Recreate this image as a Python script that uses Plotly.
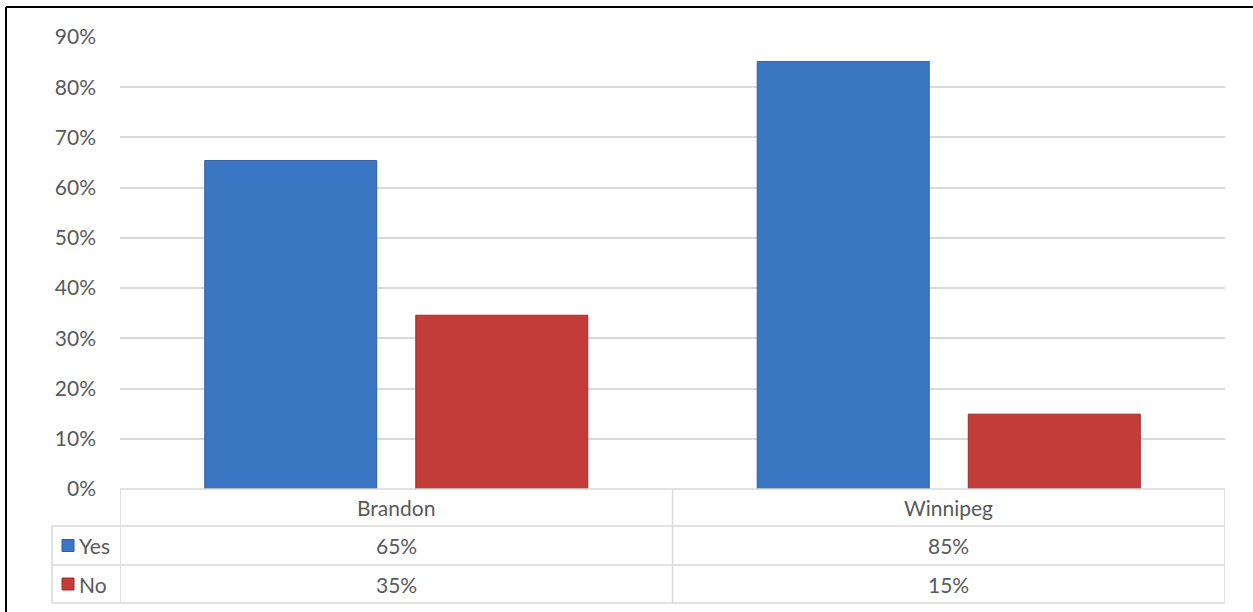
import plotly.graph_objects as go

categories = ["Brandon", "Winnipeg"]
series_names = ["Yes", "No"]
yes_values = [0.654, 0.851]
no_values = [0.346, 0.149]
table_yes = ["65%", "85%"]
table_no = ["35%", "15%"]
y_ticks = [0, 0.1, 0.2, 0.3, 0.4, 0.5, 0.6, 0.7, 0.8, 0.9]
y_ticklabels = ["0%", "10%", "20%", "30%", "40%", "50%", "60%", "70%", "80%", "90%"]

W, H = 1253, 612
FONT = "Lato, Open Sans, sans-serif"
FS = 21
TXT = "#595959"
GRID = "#D9D9D9"
BLUE = "#3B76C2"
RED = "#C23C3A"

def px(x):
    return x / W

def py(y):
    return 1 - y / H

fig = go.Figure()
fig.add_trace(go.Bar(x=categories, y=yes_values, name=series_names[0],
                     marker=dict(color=BLUE, line=dict(color="#2F5F9E", width=1))))
fig.add_trace(go.Bar(x=categories, y=no_values, name=series_names[1],
                     marker=dict(color=RED, line=dict(color="#9E2E2C", width=1))))

plot_left, plot_right = 120, 1225
y0_px, y90_px = 489, 37
row_lines = [489, 526, 565, 603]

shapes = []
shapes.append(dict(type="line", xref="paper", yref="paper", x0=px(6), x1=px(6),
                   y0=py(7), y1=0, line=dict(color="black", width=2)))
shapes.append(dict(type="line", xref="paper", yref="paper", x0=px(6), x1=1,
                   y0=py(7), y1=py(7), line=dict(color="black", width=2)))
shapes.append(dict(type="line", xref="paper", yref="paper", x0=px(plot_left), x1=px(plot_right),
                   y0=py(489), y1=py(489), line=dict(color=GRID, width=1.5)))
for yl in row_lines[1:]:
    shapes.append(dict(type="line", xref="paper", yref="paper", x0=px(52), x1=px(plot_right),
                       y0=py(yl), y1=py(yl), line=dict(color=GRID, width=1.5)))
shapes.append(dict(type="line", xref="paper", yref="paper", x0=px(52), x1=px(52),
                   y0=py(526), y1=py(603), line=dict(color=GRID, width=1.5)))
for xb in [-0.5, 0.5, 1.5]:
    shapes.append(dict(type="line", xref="x", yref="paper", x0=xb, x1=xb,
                       y0=py(489), y1=py(603), line=dict(color=GRID, width=1.5)))
for (yc, col, lc) in [((526 + 565) / 2, BLUE, "#2F5F9E"), ((565 + 603) / 2, RED, "#9E2E2C")]:
    shapes.append(dict(type="rect", xref="paper", yref="paper", x0=px(62), x1=px(74),
                       y0=py(yc + 6), y1=py(yc - 6), fillcolor=col, line=dict(color=lc, width=1)))

annotations = []
hdr_y = py((489 + 526) / 2)
yes_y = py((526 + 565) / 2)
no_y = py((565 + 603) / 2)
tf = dict(family=FONT, size=FS, color=TXT)
for i, c in enumerate(categories):
    for txt, yy in [(c, hdr_y), (table_yes[i], yes_y), (table_no[i], no_y)]:
        annotations.append(dict(x=c, xref="x", y=yy, yref="paper", text=txt, showarrow=False,
                                xanchor="center", yanchor="middle", font=tf))
for name, yy in [(series_names[0], yes_y), (series_names[1], no_y)]:
    annotations.append(dict(x=px(77), xref="paper", y=yy, yref="paper", text=name,
                            showarrow=False, xanchor="left", yanchor="middle", font=tf))

fig.update_layout(
    width=W, height=H,
    margin=dict(l=0, r=0, t=0, b=0, pad=0, autoexpand=False),
    paper_bgcolor="white", plot_bgcolor="white",
    showlegend=False,
    barmode="group", bargap=0.236, bargroupgap=0.185,
    xaxis=dict(domain=[px(plot_left), px(plot_right)], range=[-0.5, 1.5], automargin=False,
               showticklabels=False, showgrid=False, zeroline=False, showline=False, ticks=""),
    yaxis=dict(domain=[py(y0_px), py(y90_px)], range=[0, 0.9], automargin=False,
               tickvals=y_ticks, ticktext=y_ticklabels,
               showgrid=True, gridcolor=GRID, gridwidth=1.5, zeroline=False, showline=False,
               ticks="", ticklabelstandoff=23,
               tickfont=tf),
    shapes=shapes,
    annotations=annotations,
)

post = (
    "document.body.style.margin='0';"
    "document.body.style.padding='0';"
    "document.body.style.overflow='hidden';"
)

fig.write_html("out.html", post_script=post, config={"displayModeBar": False})
